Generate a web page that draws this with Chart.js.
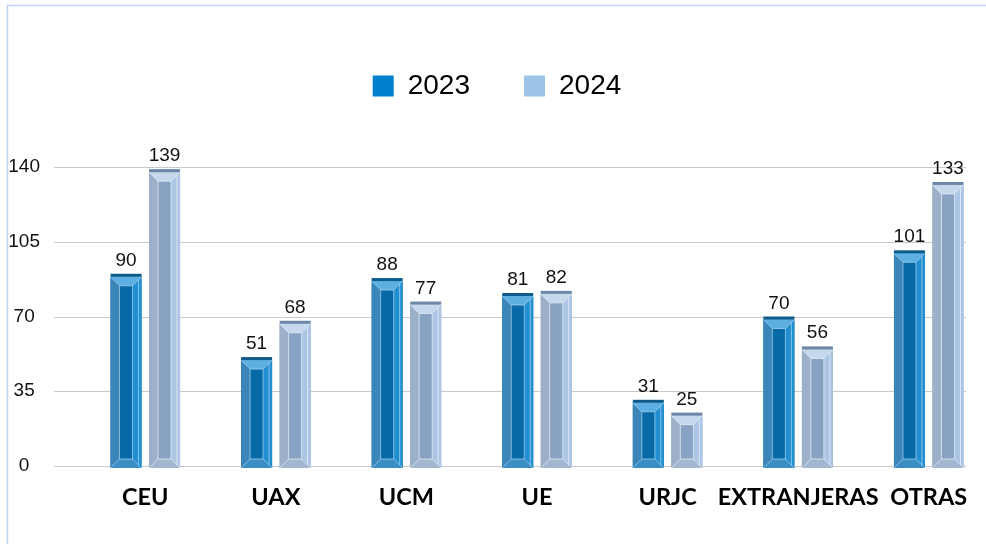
<!DOCTYPE html>
<html>
<head>
<meta charset="utf-8">
<script src="https://cdn.jsdelivr.net/npm/chart.js@4"></script>
<style>
  html, body { margin: 0; padding: 0; background: #fff; overflow: hidden; }
  #wrap { position: relative; width: 986px; height: 544px; overflow: hidden; }
</style>
</head>
<body>
<div id="wrap"><canvas id="chart" width="1000" height="544"></canvas></div>
<script>
const categories = ["CEU", "UAX", "UCM", "UE", "URJC", "EXTRANJERAS", "OTRAS"];
const values2023 = [90, 51, 88, 81, 31, 70, 101];
const values2024 = [139, 68, 77, 82, 25, 56, 133];
const yTicks = [0, 35, 70, 105, 140];

// colours for the bevelled bars: body, cap, left, right, top, bottom
const looks = [
    { body: "#0769a5", cap: "#0d5a8b", left: "#3a86b8", right: "#2290d0", top: "#5cafe0", bottom: "#3b8ec3", edge: "rgba(190,225,250,0.8)", legend: "#0080cc" },
    { body: "#87a2c3", cap: "#6b86a6", left: "#9cb0c9", right: "#abc5e4", top: "#c6d8ec", bottom: "#a2b7d0", edge: "rgba(235,242,250,0.9)", legend: "#9dc3e6" }
];

// light blue frame round the picture
const framePlugin = {
    id: "frame",
    beforeDraw(chart) {
        const ctx = chart.ctx;
        ctx.save();
        ctx.strokeStyle = "#bcd4ee";
        ctx.lineWidth = 1.5;
        ctx.strokeRect(7.5, 5.5, 1200, 1200);
        ctx.restore();
    }
};

// gridlines run over the plot box, which is narrower than the category band
const gridPlugin = {
    id: "grid",
    beforeDatasetsDraw(chart) {
        const ctx = chart.ctx;
        const y = chart.scales.y;
        ctx.save();
        ctx.strokeStyle = "#c9c9c9";
        ctx.lineWidth = 1;
        yTicks.forEach(v => {
            const py = Math.round(y.getPixelForValue(v)) + 0.5;
            ctx.beginPath();
            ctx.moveTo(54, py);
            ctx.lineTo(966, py);
            ctx.stroke();
        });
        ctx.restore();
    }
};

// bevel faces and value labels on each bar
const bevelPlugin = {
    id: "bevel",
    afterDatasetsDraw(chart) {
        const ctx = chart.ctx;
        chart.data.datasets.forEach((ds, di) => {
            const look = looks[di];
            chart.getDatasetMeta(di).data.forEach((bar, i) => {
                const p = bar.getProps(["x", "y", "base", "width"], true);
                const l = p.x - p.width / 2, r = p.x + p.width / 2;
                const t = p.y, b = p.base + 2;
                const capH = 3, bv = 9;
                const ft = t + capH;
                const poly = (pts, fill) => {
                    ctx.beginPath();
                    ctx.moveTo(pts[0][0], pts[0][1]);
                    pts.slice(1).forEach(q => ctx.lineTo(q[0], q[1]));
                    ctx.closePath();
                    ctx.fillStyle = fill;
                    ctx.fill();
                };
                ctx.save();
                ctx.fillStyle = look.body;
                ctx.fillRect(l, ft, r - l, b - ft);
                poly([[l, ft], [l + bv, ft + bv], [l + bv, b - bv], [l, b]], look.left);
                poly([[r, ft], [r - bv, ft + bv], [r - bv, b - bv], [r, b]], look.right);
                poly([[l, ft], [r, ft], [r - bv, ft + bv], [l + bv, ft + bv]], look.top);
                poly([[l, b], [r, b], [r - bv, b - bv], [l + bv, b - bv]], look.bottom);
                ctx.strokeStyle = look.edge;
                ctx.lineWidth = 0.8;
                ctx.beginPath();
                ctx.moveTo(l, ft); ctx.lineTo(l + bv, ft + bv);
                ctx.moveTo(r, ft); ctx.lineTo(r - bv, ft + bv);
                ctx.moveTo(l, b); ctx.lineTo(l + bv, b - bv);
                ctx.moveTo(r, b); ctx.lineTo(r - bv, b - bv);
                ctx.rect(l + bv, ft + bv, r - l - 2 * bv, b - ft - 2 * bv);
                ctx.moveTo(r - 3, ft + 3); ctx.lineTo(r - 3, b - 3);
                ctx.stroke();
                ctx.fillStyle = look.cap;
                ctx.fillRect(l, t, r - l, capH);

                ctx.fillStyle = "#111";
                ctx.font = "19px 'Liberation Sans', Arial, sans-serif";
                ctx.textAlign = "center";
                ctx.textBaseline = "alphabetic";
                ctx.fillText(String(ds.data[i]), p.x, t - 8);
                ctx.restore();
            });
        });
    }
};

// fixed legend height so the plot top lands on 140
const legendSizePlugin = {
    id: "legendSize",
    beforeLayout(chart) {
        const lg = chart.legend;
        if (lg && !lg._fixed) {
            const fit = lg.fit;
            lg.fit = function () {
                fit.call(this);
                this.height = 149;
            };
            lg._fixed = true;
        }
    }
};

const ctx = document.getElementById("chart").getContext("2d");
new Chart(ctx, {
    type: "bar",
    data: {
        labels: categories,
        datasets: [
            { label: "2023", data: values2023, backgroundColor: "rgba(0,0,0,0)" },
            { label: "2024", data: values2024, backgroundColor: "rgba(0,0,0,0)" }
        ]
    },
    options: {
        responsive: false,
        animation: false,
        events: [],
        categoryPercentage: 0.59,
        barPercentage: 0.805,
        layout: { padding: { top: 18, right: 6, bottom: 0, left: 0 } },
        plugins: {
            tooltip: { enabled: false },
            legend: {
                position: "top",
                labels: {
                    boxWidth: 21,
                    boxHeight: 21,
                    padding: 54,
                    color: "#111",
                    font: { family: "'Liberation Sans', Arial, sans-serif", size: 28 },
                    generateLabels(chart) {
                        return chart.data.datasets.map((ds, i) => ({
                            text: ds.label,
                            fillStyle: looks[i].legend,
                            strokeStyle: looks[i].legend,
                            lineWidth: 0,
                            datasetIndex: i
                        }));
                    }
                }
            }
        },
        scales: {
            x: {
                grid: { display: false, drawTicks: false },
                border: { display: false },
                ticks: {
                    padding: 17,
                    color: "#000",
                    autoSkip: false,
                    maxRotation: 0,
                    font: { family: "Lato, sans-serif", size: 23.5, weight: "bold" }
                },
                afterFit(scale) { scale.height = 78; }
            },
            y: {
                min: 0,
                max: 140,
                grid: { display: false, drawTicks: false },
                border: { display: false },
                afterBuildTicks(scale) { scale.ticks = yTicks.map(v => ({ value: v })); },
                ticks: {
                    padding: 40,
                    crossAlign: "center",
                    color: "#111",
                    font: { family: "'Liberation Sans', Arial, sans-serif", size: 19 }
                },
                afterFit(scale) { scale.width = 80; }
            }
        }
    },
    plugins: [framePlugin, gridPlugin, bevelPlugin, legendSizePlugin]
});
</script>
</body>
</html>
